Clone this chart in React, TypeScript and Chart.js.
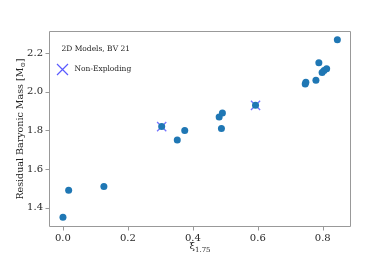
import React, { useEffect, useRef } from "react";
import { Chart, registerables } from "chart.js";

Chart.register(...registerables);

const xiValues = [0.0, 0.0175, 0.126, 0.304, 0.352, 0.375, 0.481, 0.491, 0.488, 0.593, 0.746, 0.748, 0.779, 0.788, 0.798, 0.804, 0.812, 0.845];
const massValues = [1.35, 1.49, 1.51, 1.82, 1.75, 1.80, 1.87, 1.89, 1.81, 1.93, 2.04, 2.05, 2.06, 2.15, 2.10, 2.11, 2.12, 2.27];
const nonExplodingXi = [0.304, 0.593];
const nonExplodingMass = [1.82, 1.93];
const xTicks = [0.0, 0.2, 0.4, 0.6, 0.8];
const yTicks = [1.4, 1.6, 1.8, 2.0, 2.2];
const legendTitle = "2D Models, BV 21";
const legendLabel = "Non-Exploding";

const SERIF = "'DejaVu Serif', serif";
const TEXT = "#262626";
const FRAME = "#999999";
const XCOLOR = "#5a5aff";

export default function App() {
  const ref = useRef<HTMLCanvasElement | null>(null);
  useEffect(() => {
    if (!ref.current) return;
    const overlay = {
      id: "overlay",
      afterDraw(chart: any) {
        const ctx = chart.ctx;
        const area = chart.chartArea;
        ctx.save();
        // frame
        ctx.strokeStyle = FRAME;
        ctx.lineWidth = 1;
        ctx.beginPath();
        ctx.rect(Math.round(area.left) + 0.5, Math.round(area.top) + 0.5, Math.round(area.right - area.left) - 1, Math.round(area.bottom - area.top) - 1);
        ctx.stroke();
        // ticks
        const xs = chart.scales.x, ys = chart.scales.y;
        ctx.beginPath();
        for (const v of xTicks) {
          const px = Math.round(xs.getPixelForValue(v)) + 0.5;
          ctx.moveTo(px, area.bottom);
          ctx.lineTo(px, area.bottom + 3.5);
        }
        for (const v of yTicks) {
          const py = Math.round(ys.getPixelForValue(v)) + 0.5;
          ctx.moveTo(area.left, py);
          ctx.lineTo(area.left - 3.5, py);
        }
        ctx.stroke();
        // legend
        ctx.fillStyle = TEXT;
        ctx.font = `7.5px ${SERIF}`;
        ctx.textBaseline = "middle";
        ctx.textAlign = "left";
        ctx.fillText(legendTitle, area.left + 12.5, area.top + 18.5);
        const mx = area.left + 13.5, my = area.top + 38.5, s = 5.5;
        ctx.strokeStyle = XCOLOR;
        ctx.lineWidth = 1.2;
        ctx.beginPath();
        ctx.moveTo(mx - s, my - s); ctx.lineTo(mx + s, my + s);
        ctx.moveTo(mx - s, my + s); ctx.lineTo(mx + s, my - s);
        ctx.stroke();
        ctx.fillStyle = TEXT;
        ctx.fillText(legendLabel, area.left + 25.5, my);
        // x label
        ctx.textAlign = "left";
        ctx.textBaseline = "alphabetic";
        const xl = "ξ";
        const sub = "1.75";
        ctx.font = `10px ${SERIF}`;
        const w1 = ctx.measureText(xl).width;
        ctx.font = `7px ${SERIF}`;
        const w2 = ctx.measureText(sub).width;
        const cx = (area.left + area.right) / 2;
        const startX = cx - (w1 + w2) / 2;
        ctx.font = `10px ${SERIF}`;
        ctx.fillText(xl, startX, 249);
        ctx.font = `7px ${SERIF}`;
        ctx.fillText(sub, startX + w1, 251.5);
        // y label
        ctx.translate(21, (area.top + area.bottom) / 2);
        ctx.rotate(-Math.PI / 2);
        const main = "Residual Baryonic Mass [M";
        const subY = "⊙";
        const close = "]";
        ctx.font = `9.5px ${SERIF}`;
        const a = ctx.measureText(main).width;
        const c = ctx.measureText(close).width;
        ctx.font = `6.5px ${SERIF}`;
        const b = ctx.measureText(subY).width;
        const total = a + b + c;
        ctx.textBaseline = "middle";
        ctx.font = `9.5px ${SERIF}`;
        ctx.fillText(main, -total / 2, 0);
        ctx.font = `6.5px ${SERIF}`;
        ctx.fillText(subY, -total / 2 + a, 2.5);
        ctx.font = `9.5px ${SERIF}`;
        ctx.fillText(close, -total / 2 + a + b, 0);
        ctx.restore();
      },
    };
    const chart = new Chart(ref.current, {
      type: "scatter",
      data: {
        datasets: [
          {
            data: xiValues.map((x, i) => ({ x, y: massValues[i] })),
            backgroundColor: "#1f77b4",
            borderWidth: 0,
            pointRadius: 3.5,
          },
          {
            data: nonExplodingXi.map((x, i) => ({ x, y: nonExplodingMass[i] })),
            pointStyle: "crossRot",
            borderColor: "rgba(0,0,255,0.55)",
            backgroundColor: "rgba(0,0,255,0.55)",
            borderWidth: 1.3,
            pointRadius: 6.5,
          },
        ],
      },
      options: {
        responsive: false,
        animation: false,
        layout: { padding: { top: 31, right: 39, left: 0, bottom: 0 } },
        plugins: { legend: { display: false }, tooltip: { enabled: false } },
        scales: {
          x: {
            type: "linear",
            min: -0.043,
            max: 0.887,
            afterBuildTicks(scale: any) {
              scale.ticks = xTicks.map((v) => ({ value: v }));
            },
            afterFit(scale: any) {
              scale.height = 33;
            },
            grid: { display: false, tickLength: 0 },
            border: { display: false },
            ticks: {
              color: TEXT,
              font: { family: SERIF, size: 10 },
              padding: 5,
              maxRotation: 0,
              callback: (v: any) => Number(v).toFixed(1),
            },
          },
          y: {
            type: "linear",
            min: 1.30,
            max: 2.315,
            afterBuildTicks(scale: any) {
              scale.ticks = yTicks.map((v) => ({ value: v }));
            },
            afterFit(scale: any) {
              scale.width = 49;
            },
            grid: { display: false, tickLength: 0 },
            border: { display: false },
            ticks: {
              color: TEXT,
              font: { family: SERIF, size: 10 },
              padding: 6,
              callback: (v: any) => Number(v).toFixed(1),
            },
          },
        },
      },
      plugins: [overlay],
    });
    return () => chart.destroy();
  }, []);
  return (
    <div style={{ position: "absolute", left: 0, top: 0, width: 390, height: 260, background: "#fff" }}>
      <canvas ref={ref} width={390} height={260} style={{ width: 390, height: 260, display: "block" }} />
    </div>
  );
}
